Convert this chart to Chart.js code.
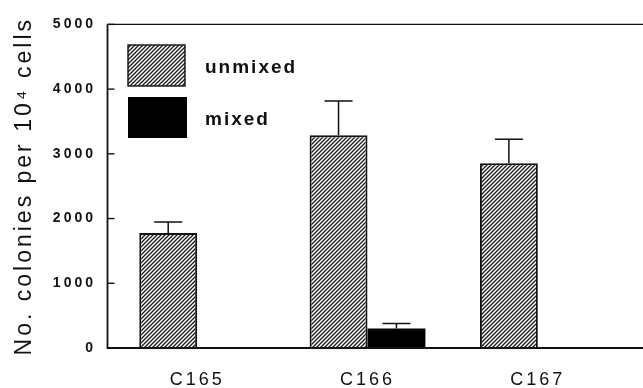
<!DOCTYPE html>
<html>
<head>
<meta charset="utf-8">
<script src="https://cdn.jsdelivr.net/npm/chart.js@4/dist/chart.umd.min.js"></script>
<style>
  html, body { margin: 0; padding: 0; background: #fff; }
  #wrap { width: 643px; height: 388px; }
</style>
</head>
<body>
<div id="wrap"><canvas id="colonyChart" width="643" height="388"></canvas></div>
<script>
// data
const categories = ['C165', 'C166', 'C167'];
const unmixedValues = [1778, 3287, 2855];
const unmixedSd = [168, 531, 371];
const mixedValues = [0, 301, 15];
const mixedSd = [0, 77, 0];
const yTicks = [0, 1000, 2000, 3000, 4000, 5000];
const seriesNames = ['unmixed', 'mixed'];

const FONT = "'Liberation Sans', Arial, Helvetica, sans-serif";
const INK = '#111';

// diagonal hatch fill, like the printed figure
function makeHatch() {
    const c = document.createElement('canvas');
    c.width = 4; c.height = 4;
    const g = c.getContext('2d');
    g.fillStyle = '#fff';
    g.fillRect(0, 0, 4, 4);
    g.strokeStyle = '#1a1a1a';
    g.lineWidth = 1.3;
    g.beginPath();
    g.moveTo(0, 4); g.lineTo(4, 0);
    g.moveTo(-1, 1); g.lineTo(1, -1);
    g.moveTo(3, 5); g.lineTo(5, 3);
    g.stroke();
    return g.createPattern(c, 'repeat');
}
const hatch = makeHatch();

// spaced-out lettering as in the original
const spacingPlugin = {
    id: 'spacing',
    beforeDraw(chart) {
        chart.ctx.letterSpacing = '3px';
    }
};

// frame: left axis, top and bottom lines, inward ticks
const framePlugin = {
    id: 'frame',
    afterDatasetsDraw(chart) {
        const ctx = chart.ctx;
        const y = chart.scales.y;
        const top = y.getPixelForValue(5000);
        const bottom = y.getPixelForValue(0);
        const axisX = 107.5;
        ctx.save();
        ctx.strokeStyle = INK;
        ctx.lineWidth = 1.8;
        ctx.beginPath();
        ctx.moveTo(axisX, top);
        ctx.lineTo(axisX, bottom);
        ctx.lineTo(643, bottom);
        ctx.stroke();
        ctx.lineWidth = 1.4;
        ctx.beginPath();
        ctx.moveTo(axisX, top);
        ctx.lineTo(643, top);
        ctx.stroke();
        yTicks.forEach(v => {
            const py = y.getPixelForValue(v);
            ctx.beginPath();
            ctx.moveTo(axisX, py);
            ctx.lineTo(axisX + 7, py);
            ctx.stroke();
        });
        ctx.restore();
    }
};

// one-sided error bars (upper only)
const errorPlugin = {
    id: 'errorBars',
    afterDatasetsDraw(chart) {
        const ctx = chart.ctx;
        const y = chart.scales.y;
        const sds = [unmixedSd, mixedSd];
        ctx.save();
        ctx.strokeStyle = INK;
        ctx.lineWidth = 1.5;
        sds.forEach((sd, di) => {
            const meta = chart.getDatasetMeta(di);
            meta.data.forEach((bar, i) => {
                if (!sd[i]) return;
                const val = chart.data.datasets[di].data[i];
                const yTop = y.getPixelForValue(val + sd[i]);
                ctx.beginPath();
                ctx.moveTo(bar.x, bar.y);
                ctx.lineTo(bar.x, yTop);
                ctx.moveTo(bar.x - 14, yTop);
                ctx.lineTo(bar.x + 14, yTop);
                ctx.stroke();
            });
        });
        ctx.restore();
    }
};

// legend drawn inside the plot, boxes on the left
const legendPlugin = {
    id: 'boxLegend',
    afterDraw(chart) {
        const ctx = chart.ctx;
        ctx.save();
        ctx.letterSpacing = '2px';
        const rows = [
            { x: 128, y: 45, w: 57, h: 41, fill: hatch, border: true },
            { x: 128, y: 97, w: 59, h: 41, fill: '#000', border: false }
        ];
        rows.forEach((r, i) => {
            ctx.fillStyle = r.fill;
            ctx.fillRect(r.x, r.y, r.w, r.h);
            if (r.border) {
                ctx.strokeStyle = INK;
                ctx.lineWidth = 1.4;
                ctx.strokeRect(r.x, r.y, r.w, r.h);
            }
            ctx.fillStyle = INK;
            ctx.font = 'bold 19px ' + FONT;
            ctx.textBaseline = 'alphabetic';
            ctx.textAlign = 'left';
            ctx.fillText(seriesNames[i], 205, r.y + 28);
        });
        ctx.restore();
    }
};

new Chart(document.getElementById('colonyChart').getContext('2d'), {
    type: 'bar',
    data: {
        labels: categories,
        datasets: [
            {
                label: seriesNames[0],
                data: unmixedValues,
                backgroundColor: hatch,
                borderColor: INK,
                borderWidth: 2,
                borderSkipped: 'bottom'
            },
            {
                label: seriesNames[1],
                data: mixedValues,
                backgroundColor: '#000',
                borderWidth: 0
            }
        ]
    },
    options: {
        responsive: false,
        animation: false,
        events: [],
        layout: { padding: { top: 21, right: 20, left: 0, bottom: 0 } },
        datasets: { bar: { categoryPercentage: 0.68, barPercentage: 1.0 } },
        plugins: {
            legend: { display: false },
            tooltip: { enabled: false }
        },
        scales: {
            x: {
                grid: { display: false, drawTicks: false },
                border: { display: false },
                ticks: { color: INK, font: { family: FONT, size: 18 }, padding: 21 },
                afterFit(scale) { scale.height = 40; }
            },
            y: {
                min: 0,
                max: 5000,
                grid: { display: false, drawTicks: false },
                border: { display: false },
                afterBuildTicks(scale) { scale.ticks = yTicks.map(v => ({ value: v })); },
                ticks: {
                    color: INK,
                    font: { family: FONT, size: 14, weight: 'bold' },
                    padding: 16,
                    callback: v => String(v)
                },
                title: {
                    display: true,
                    text: 'No. colonies per 10\u2074 cells',
                    color: INK,
                    font: { family: FONT, size: 23 },
                    padding: { top: 11, bottom: 0 }
                },
                afterFit(scale) { scale.width = 112; }
            }
        }
    },
    plugins: [spacingPlugin, errorPlugin, framePlugin, legendPlugin]
});
</script>
</body>
</html>
